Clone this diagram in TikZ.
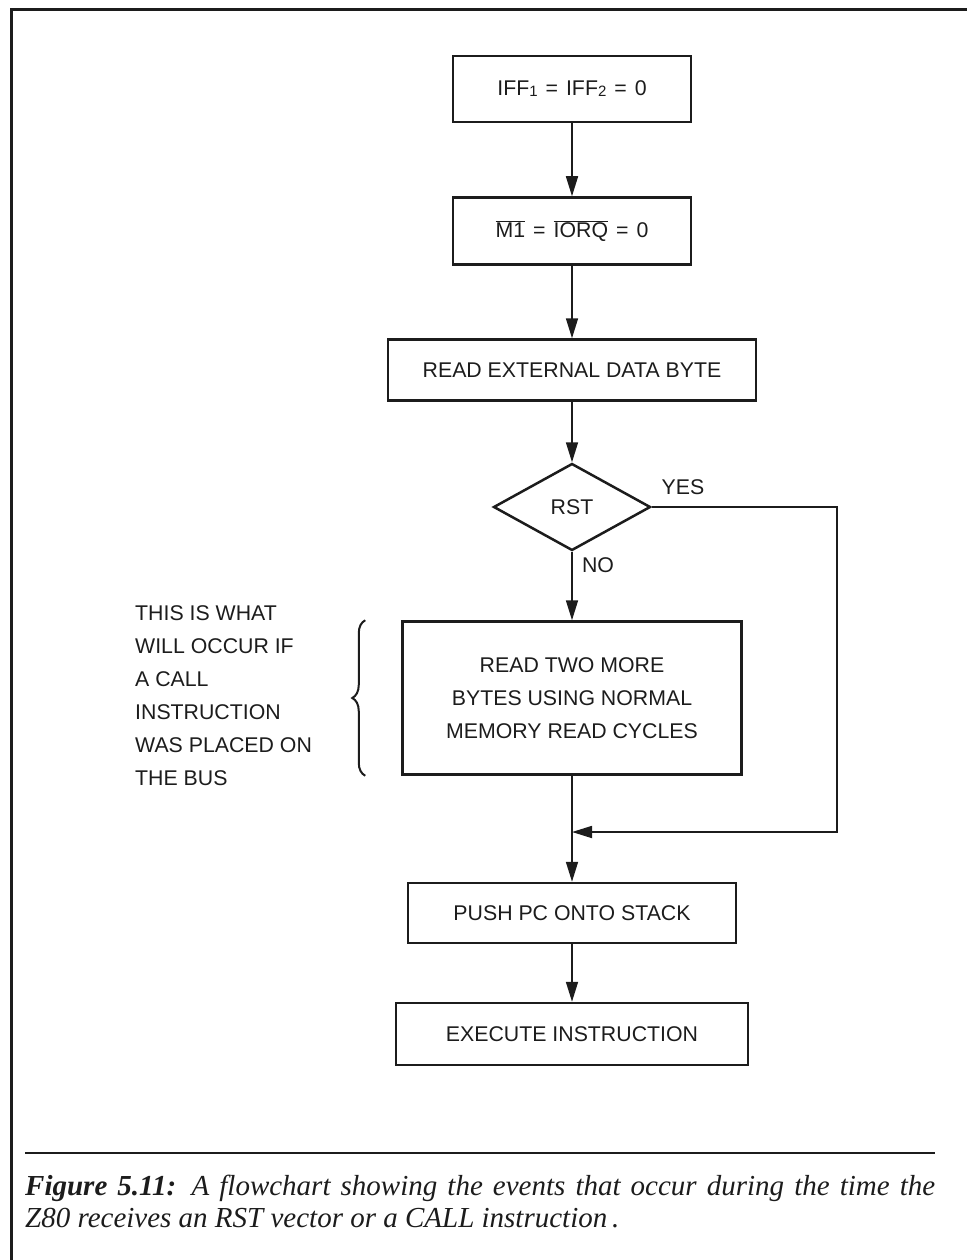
\documentclass[tikz,border=0pt]{standalone}
\usepackage{fontspec}
\setmainfont{Liberation Sans}
\newfontfamily\capfont{Liberation Serif}
\usepackage{tikz}
\usetikzlibrary{arrows.meta,shapes.geometric,decorations.pathreplacing}
\usepackage{xcolor}
\definecolor{ink}{HTML}{1C1C1C}
\newcommand{\iffidx}[1]{\raisebox{-1pt}{\fontsize{15}{15}\selectfont #1}}
\newcommand{\eqsp}{\hspace{8pt}=\hspace{8pt}}
\newcommand{\barred}[1]{$\overline{\mbox{#1}}$}

\begin{document}
\begin{tikzpicture}[x=1pt,y=-1pt,
  font=\fontsize{21.3}{33}\selectfont, color=ink,
  fcbox/.style={rectangle, draw=ink, line width=2.5pt, inner sep=0pt, align=center},
  fcdiam/.style={diamond, draw=ink, line width=2.5pt, inner sep=0pt, aspect=1.8},
  fcarr/.style={-{Triangle[length=20pt,width=12pt]}, line width=1.7pt, color=ink}]
  \useasboundingbox (0,0) rectangle (967,1260);
  \draw[line width=3pt] (11,1260) -- (11,10) -- (967,10);

  \node[fcbox, minimum width=238, minimum height=66] (iff) at (572,89)
    {IFF\iffidx{1}\eqsp IFF\iffidx{2}\eqsp 0};
  \node[fcbox, minimum width=238, minimum height=67] (m1) at (572,231)
    {\barred{M1}\eqsp\barred{IORQ}\eqsp 0};
  \node[fcbox, minimum width=368, minimum height=61] (rdx) at (572,370)
    {READ EXTERNAL DATA BYTE};
  \node[fcdiam, minimum width=157, minimum height=87] (rst) at (572,507) {RST};
  \node[fcbox, minimum width=339, minimum height=153] (two) at (572,698)
    {READ TWO MORE\\BYTES USING NORMAL\\MEMORY READ CYCLES};
  \coordinate (join) at (572,832);
  \node[fcbox, minimum width=328, minimum height=60] (push) at (572,913)
    {PUSH PC ONTO STACK};
  \node[fcbox, minimum width=352, minimum height=62] (exec) at (572,1034)
    {EXECUTE INSTRUCTION};

  \node (yes) at (683,487) {YES};
  \node (no) at (598,565) {NO};
  \node[align=left, anchor=west, inner sep=0pt] (note) at (135,696)
    {THIS IS WHAT\\WILL OCCUR IF\\A CALL\\INSTRUCTION\\WAS PLACED ON\\THE BUS};

  \draw[fcarr] (iff) -- (m1);
  \draw[fcarr] (m1) -- (rdx);
  \draw[fcarr] (rdx) -- (rst);
  \draw[fcarr] (rst) -- (two);
  \draw[fcarr] (rst.east) -- ++(185,0) |- (join);
  \draw[fcarr] (two) -- (push);
  \draw[fcarr] (push) -- (exec);
  \draw[decorate, decoration={brace, amplitude=13pt}, line width=2pt]
    ([xshift=-36pt]two.south west) -- ([xshift=-36pt]two.north west);

  \draw[line width=2.6pt] (25,1153) -- (935,1153);
  \node[anchor=north west, text width=910pt, inner sep=0pt, align=justify,
    font=\capfont\itshape\fontsize{29}{32}\selectfont] (cap) at (25,1175)
    {\textbf{Figure 5.11:} A flowchart showing the events that occur during the time the\linebreak
     Z80 receives an RST vector or a CALL instruction\,.};
\end{tikzpicture}
\end{document}
